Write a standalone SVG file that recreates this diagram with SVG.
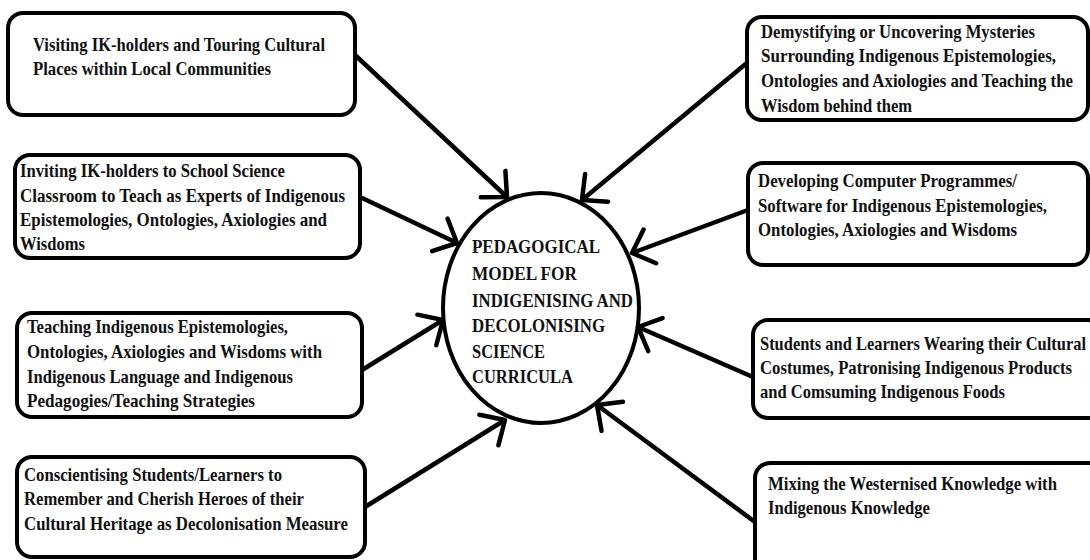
<svg xmlns="http://www.w3.org/2000/svg" width="1090" height="560" viewBox="0 0 1090 560">
<style>
.box{fill:#fff;stroke:#000;stroke-width:4}
.t{font-family:"Liberation Serif","Times New Roman",serif;font-weight:bold;font-size:19.5px;fill:#111}
.c{fill:none;stroke:#000;stroke-width:4.5}
</style>
<defs>
<marker id="ah" markerUnits="userSpaceOnUse" markerWidth="40" markerHeight="40" refX="0" refY="0" viewBox="-30 -20 32 40" orient="auto" overflow="visible">
<path d="M -19 -18 L 0 0 L -19 18" fill="none" stroke="#000" stroke-width="4.5" stroke-linecap="round" stroke-linejoin="round"/>
</marker>
</defs>
<rect width="1090" height="560" fill="#fff"/>
<g id="connectors">
<line class="c" x1="355" y1="55" x2="507" y2="197" marker-end="url(#ah)"/>
<line class="c" x1="360" y1="197" x2="457" y2="243" marker-end="url(#ah)"/>
<line class="c" x1="362" y1="370" x2="443" y2="320" marker-end="url(#ah)"/>
<line class="c" x1="365" y1="507" x2="505" y2="420" marker-end="url(#ah)"/>
<line class="c" x1="748" y1="62" x2="582" y2="200" marker-end="url(#ah)"/>
<line class="c" x1="748" y1="210" x2="632" y2="253" marker-end="url(#ah)"/>
<line class="c" x1="753" y1="377" x2="638" y2="327" marker-end="url(#ah)"/>
<line class="c" x1="755" y1="522" x2="597" y2="405" marker-end="url(#ah)"/>
</g>
<g id="center">
<ellipse cx="541" cy="308" rx="98" ry="115" fill="none" stroke="#000" stroke-width="4"/>
<text class="t" x="472" y="253" textLength="128" lengthAdjust="spacingAndGlyphs">PEDAGOGICAL</text>
<text class="t" x="472" y="280" textLength="105" lengthAdjust="spacingAndGlyphs">MODEL FOR</text>
<text class="t" x="472" y="307" textLength="161" lengthAdjust="spacingAndGlyphs">INDIGENISING AND</text>
<text class="t" x="472" y="332" textLength="133" lengthAdjust="spacingAndGlyphs">DECOLONISING</text>
<text class="t" x="472" y="358" textLength="73" lengthAdjust="spacingAndGlyphs">SCIENCE</text>
<text class="t" x="472" y="383" textLength="101" lengthAdjust="spacingAndGlyphs">CURRICULA</text>
</g>
<g id="n1">
<rect class="box" x="8" y="13" width="347" height="102" rx="15"/>
<text class="t" x="33" y="51" textLength="292" lengthAdjust="spacingAndGlyphs">Visiting IK-holders and Touring Cultural</text>
<text class="t" x="33" y="75" textLength="238" lengthAdjust="spacingAndGlyphs">Places within Local Communities</text>
</g>
<g id="n2">
<rect class="box" x="15" y="155" width="345" height="103" rx="15"/>
<text class="t" x="20" y="177" textLength="265" lengthAdjust="spacingAndGlyphs">Inviting IK-holders to School Science</text>
<text class="t" x="20" y="202" textLength="325" lengthAdjust="spacingAndGlyphs">Classroom to Teach as Experts of Indigenous</text>
<text class="t" x="20" y="226" textLength="307" lengthAdjust="spacingAndGlyphs">Epistemologies, Ontologies, Axiologies and</text>
<text class="t" x="20" y="250" textLength="65" lengthAdjust="spacingAndGlyphs">Wisdoms</text>
</g>
<g id="n3">
<rect class="box" x="17" y="313" width="345" height="104" rx="15"/>
<text class="t" x="27" y="333" textLength="261" lengthAdjust="spacingAndGlyphs">Teaching Indigenous Epistemologies,</text>
<text class="t" x="27" y="358" textLength="295" lengthAdjust="spacingAndGlyphs">Ontologies, Axiologies and Wisdoms with</text>
<text class="t" x="27" y="383" textLength="266" lengthAdjust="spacingAndGlyphs">Indigenous Language and Indigenous</text>
<text class="t" x="27" y="407" textLength="228" lengthAdjust="spacingAndGlyphs">Pedagogies/Teaching Strategies</text>
</g>
<g id="n4">
<rect class="box" x="17" y="457" width="348" height="100" rx="15"/>
<text class="t" x="24" y="481" textLength="258" lengthAdjust="spacingAndGlyphs">Conscientising Students/Learners to</text>
<text class="t" x="24" y="505" textLength="280" lengthAdjust="spacingAndGlyphs">Remember and Cherish Heroes of their</text>
<text class="t" x="24" y="530" textLength="324" lengthAdjust="spacingAndGlyphs">Cultural Heritage as Decolonisation Measure</text>
</g>
<g id="n5">
<rect class="box" x="747" y="17" width="341" height="103" rx="15"/>
<text class="t" x="761" y="38" textLength="274" lengthAdjust="spacingAndGlyphs">Demystifying or Uncovering Mysteries</text>
<text class="t" x="761" y="62" textLength="295" lengthAdjust="spacingAndGlyphs">Surrounding Indigenous Epistemologies,</text>
<text class="t" x="761" y="87" textLength="312" lengthAdjust="spacingAndGlyphs">Ontologies and Axiologies and Teaching the</text>
<text class="t" x="761" y="112" textLength="151" lengthAdjust="spacingAndGlyphs">Wisdom behind them</text>
</g>
<g id="n6">
<rect class="box" x="748" y="163" width="340" height="102" rx="15"/>
<text class="t" x="758" y="187" textLength="259" lengthAdjust="spacingAndGlyphs">Developing Computer Programmes/</text>
<text class="t" x="758" y="212" textLength="289" lengthAdjust="spacingAndGlyphs">Software for Indigenous Epistemologies,</text>
<text class="t" x="758" y="236" textLength="259" lengthAdjust="spacingAndGlyphs">Ontologies, Axiologies and Wisdoms</text>
</g>
<g id="n7">
<rect class="box" x="753" y="320" width="350" height="98" rx="15"/>
<text class="t" x="760" y="350" textLength="326" lengthAdjust="spacingAndGlyphs">Students and Learners Wearing their Cultural</text>
<text class="t" x="760" y="374" textLength="312" lengthAdjust="spacingAndGlyphs">Costumes, Patronising Indigenous Products</text>
<text class="t" x="760" y="398" textLength="245" lengthAdjust="spacingAndGlyphs">and Comsuming Indigenous Foods</text>
</g>
<g id="n8">
<rect class="box" x="755" y="463" width="350" height="120" rx="15"/>
<text class="t" x="768" y="490" textLength="289" lengthAdjust="spacingAndGlyphs">Mixing the Westernised Knowledge with</text>
<text class="t" x="768" y="514" textLength="162" lengthAdjust="spacingAndGlyphs">Indigenous Knowledge</text>
</g>
</svg>
